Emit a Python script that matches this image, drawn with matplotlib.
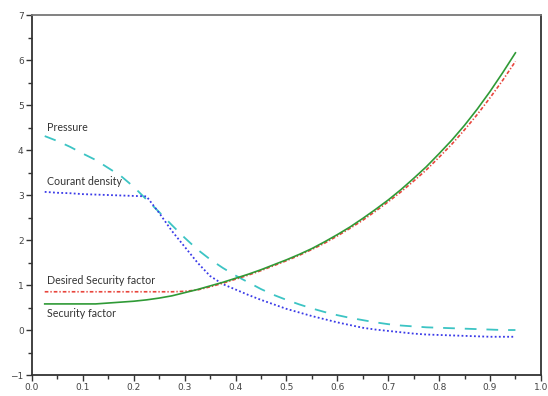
import numpy as np
import matplotlib.pyplot as plt

# common abscissa for all curves
x = [0.025, 0.05, 0.075, 0.1, 0.125, 0.15, 0.175, 0.2, 0.225, 0.25,
     0.275, 0.3, 0.325, 0.35, 0.375, 0.4, 0.425, 0.45, 0.475, 0.5,
     0.525, 0.55, 0.575, 0.6, 0.625, 0.65, 0.675, 0.7, 0.725, 0.75,
     0.775, 0.8, 0.825, 0.85, 0.875, 0.9, 0.925, 0.95]

security = [0.58, 0.58, 0.58, 0.58, 0.58, 0.60, 0.62, 0.64, 0.67, 0.71,
            0.76, 0.83, 0.90, 0.98, 1.06, 1.15, 1.24, 1.34, 1.45, 1.56,
            1.68, 1.81, 1.96, 2.12, 2.29, 2.48, 2.68, 2.89, 3.12, 3.37,
            3.63, 3.92, 4.22, 4.55, 4.91, 5.30, 5.72, 6.16]

desired = [0.85, 0.85, 0.85, 0.85, 0.85, 0.85, 0.85, 0.85, 0.85, 0.85,
           0.85, 0.86, 0.89, 0.96, 1.04, 1.13, 1.22, 1.32, 1.43, 1.54,
           1.66, 1.79, 1.93, 2.09, 2.26, 2.44, 2.64, 2.85, 3.07, 3.31,
           3.56, 3.84, 4.13, 4.45, 4.79, 5.16, 5.55, 5.97]

pressure = [4.31, 4.20, 4.07, 3.92, 3.78, 3.60, 3.42, 3.18, 2.90, 2.62,
            2.33, 2.05, 1.79, 1.57, 1.38, 1.21, 1.06, 0.91, 0.78, 0.67,
            0.57, 0.48, 0.40, 0.33, 0.27, 0.22, 0.17, 0.13, 0.10, 0.08,
            0.06, 0.05, 0.04, 0.03, 0.02, 0.01, 0.0, 0.0]

courant = [3.07, 3.05, 3.04, 3.02, 3.01, 3.00, 2.99, 2.98, 2.97, 2.60,
           2.20, 1.85, 1.50, 1.20, 1.02, 0.90, 0.78, 0.67, 0.57, 0.47,
           0.39, 0.31, 0.24, 0.17, 0.11, 0.05, 0.01, -0.02, -0.05, -0.08,
           -0.10, -0.11, -0.12, -0.13, -0.14, -0.15, -0.15, -0.15]

labels = ["Pressure", "Courant density", "Desired Security factor", "Security factor"]
label_y = [4.5, 3.29, 1.11, 0.36]

fig = plt.figure(figsize=(5.48, 3.96), dpi=100)
ax = fig.add_axes([0.0584, 0.053, 0.9286, 0.909])

ax.plot(x, pressure, color='#3cc4c4', lw=1.3, dashes=(6.5, 5.5))
ax.plot(x, courant, color='#3a3ae8', lw=1.3, dashes=(1.0, 1.3))
ax.plot(x, desired, color='#e8453c', lw=1.2, dashes=(2.2, 1.2, 0.8, 1.2))
ax.plot(x, security, color='#2f9a36', lw=1.2)

for lab, yy in zip(labels, label_y):
    ax.text(0.03, yy, lab, fontsize=7.7, family='Lato', color='#333333',
            va='center', ha='left')

ax.set_xlim(0, 1)
ax.set_ylim(-1, 7)
ax.set_xticks(np.arange(0, 1.01, 0.1))
ax.set_xticks(np.arange(0.05, 1.0, 0.1), minor=True)
ax.set_yticks(range(-1, 8))
ax.set_yticks(np.arange(-0.5, 7, 1.0), minor=True)
ax.set_xticklabels(['%.1f' % v for v in np.arange(0, 1.01, 0.1)])
ax.tick_params(which='both', direction='out', labelsize=6.5, labelcolor='#444444',
               color='#333333', pad=2)
ax.tick_params(which='major', length=4, width=1.0)
ax.tick_params(which='minor', length=3, width=1.0)

for s in ['left', 'bottom', 'right']:
    ax.spines[s].set_color('#333333')
    ax.spines[s].set_linewidth(1.3)
ax.spines['top'].set_color('#777777')
ax.spines['top'].set_linewidth(1.3)

fig.savefig('out.png', dpi=100)
